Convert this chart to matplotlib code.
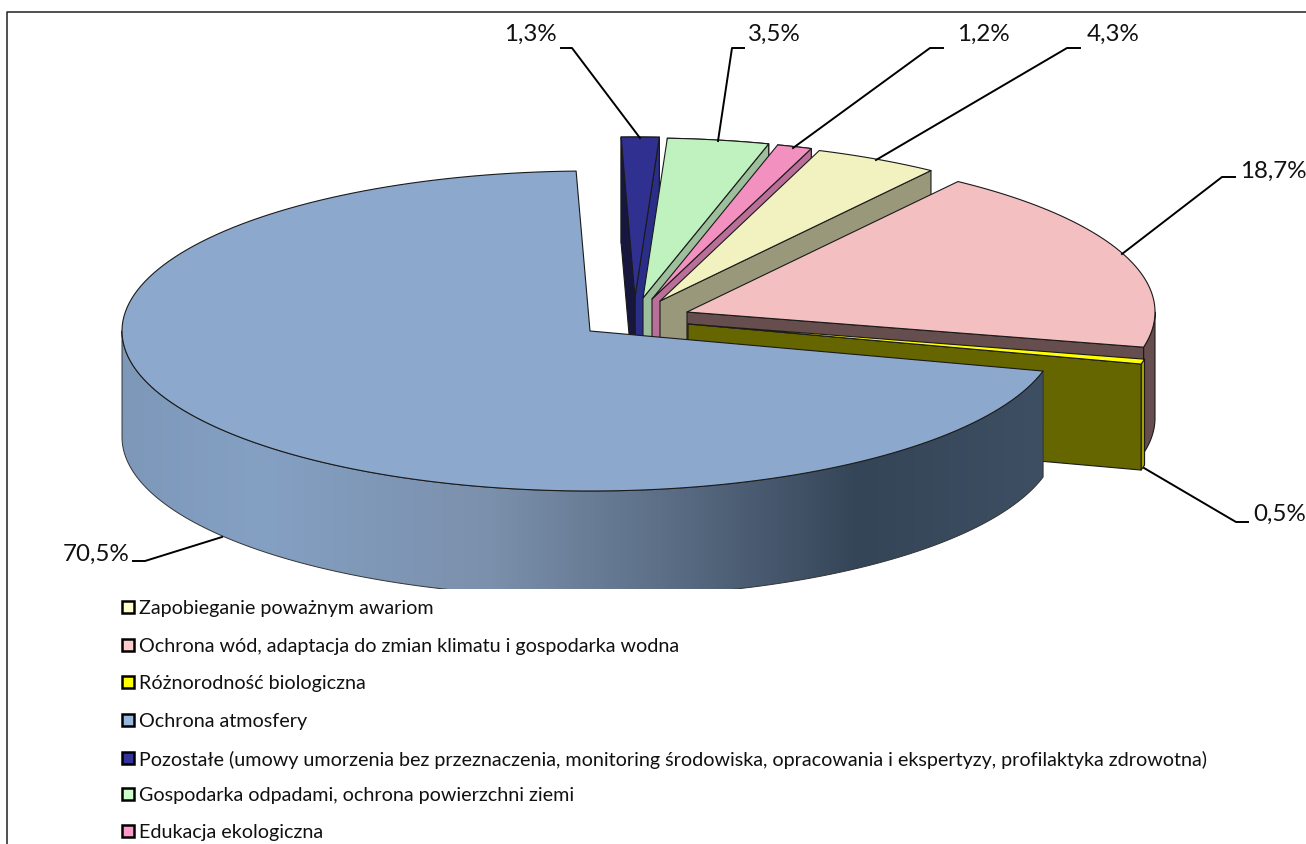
import numpy as np
import matplotlib
matplotlib.use("Agg")
import matplotlib.pyplot as plt
from matplotlib.patches import Polygon, Rectangle
from matplotlib.colors import LinearSegmentedColormap

# ---- data (legend order, which is also clockwise order round the pie)
categories = [
    "Zapobieganie poważnym awariom",
    "Ochrona wód, adaptacja do zmian klimatu i gospodarka wodna",
    "Różnorodność biologiczna",
    "Ochrona atmosfery",
    "Pozostałe (umowy umorzenia bez przeznaczenia, monitoring środowiska, opracowania i ekspertyzy, profilaktyka zdrowotna)",
    "Gospodarka odpadami, ochrona powierzchni ziemi",
    "Edukacja ekologiczna",
]
values = [4.3, 18.7, 0.5, 70.5, 1.3, 3.5, 1.2]
value_labels = ["4,3%", "18,7%", "0,5%", "70,5%", "1,3%", "3,5%", "1,2%"]

# ---- styles
legend_colors = ["#ffffcc", "#ffcccc", "#ffff00", "#99b7dc", "#333399", "#ccffcc", "#ff99cc"]
top_colors = ["#f2f2c0", "#f3bfc0", "#ffff00", "#8ca9cd", "#303090", "#c0f2c0", "#f291c0"]
wall_colors = ["#99987a", "#664e4f", "#666600", "#3f4f63", "#2a2e88", "#9dbf9b", "#b96f97"]
outer_colors = ["#99987a", "#664e4f", "#a3a300", "#3f4f63", "#2a2e88", "#9dbf9b", "#b96f97"]

# ---- layout (pixels)
W, H = 1306, 844
RX, RY, DEPTH = 468, 160, 106
START_ANGLE = 70.1
apex = [(660, 301), (687, 312), (688, 324), (590, 331), (635, 297), (643, 298), (652, 299)]
draw_order = [4, 5, 6, 0, 1, 2, 3]
label_pos = [(1113, 34), (1273, 171), (1280, 514), (96, 554), (530, 34), (774, 34), (983, 34)]
leader_pts = [
    [(876, 160), (1067, 48), (1080, 48)],
    [(1122, 254), (1222, 177), (1235, 177)],
    [(1144, 468), (1236, 522), (1248, 522)],
    [(222, 537), (145, 561), (133, 561)],
    [(640, 138), (572, 48), (561, 48)],
    [(718, 141), (732, 48), (744, 48)],
    [(793, 148), (930, 48), (943, 48)],
]
legend_y = [607, 645, 682, 720, 758, 794, 831]
CLIP_Y = 589

plt.rcParams["font.family"] = ["Lato", "DejaVu Sans"]
fig = plt.figure(figsize=(W / 100, H / 100), dpi=100, facecolor="white")
ax = fig.add_axes([0, 0, 1, 1])
ax.set_xlim(0, W)
ax.set_ylim(H, 0)
ax.axis("off")

EDGE = dict(edgecolor="#1a1a1a", linewidth=0.8, joinstyle="round")


def arc(c, t0, t1, dy=0, n=160):
    t = np.radians(np.linspace(t0, t1, n))
    return np.column_stack([c[0] + RX * np.cos(t), c[1] - RY * np.sin(t) + dy])


def radial_wall(c, t):
    p = arc(c, t, t, n=1)[0]
    return [c, p, (p[0], p[1] + DEPTH), (c[0], c[1] + DEPTH)]


# clockwise angle extents computed from the values
sweeps = np.array(values) * 3.6
ends = START_ANGLE - np.cumsum(sweeps)
starts = ends + sweeps

for i in draw_order:
    c, t0, t1 = apex[i], starts[i], ends[i]
    if i == 3:
        # large slice: front rim from the cut at the right round to the far left, shaded by x
        rim = np.vstack([arc(c, t0, -180), arc(c, -180, t0, dy=DEPTH)])
        outline = Polygon(rim, closed=True, facecolor="none", zorder=3, edgecolor="#333333",
                          linewidth=0.7, joinstyle="round")
        ax.add_patch(outline)
        stops = [(0.0, "#7d98b9"), (0.15, "#84a0c3"), (0.40, "#7b90ac"), (0.58, "#5d7088"),
                 (0.80, "#354558"), (1.0, "#3f4f63")]
        cmap = LinearSegmentedColormap.from_list("wall", stops)
        im = ax.imshow(np.linspace(0, 1, 512)[None, :], cmap=cmap, aspect="auto",
                       extent=(rim[:, 0].min(), rim[:, 0].max(), H, 0), zorder=2)
        im.set_clip_path(Polygon(rim, closed=True, transform=ax.transData))
        ax.set_xlim(0, W)
        ax.set_ylim(H, 0)
    else:
        if t1 < 0:
            hi = min(t0, 0)
            rim = np.vstack([arc(c, hi, t1), arc(c, t1, hi, dy=DEPTH)])
            ax.add_patch(Polygon(rim, closed=True, facecolor=outer_colors[i], zorder=2, **EDGE))
        ax.add_patch(Polygon(radial_wall(c, t1), closed=True, facecolor=wall_colors[i], zorder=2, **EDGE))
    if i == 4:  # the narrow slice also shows its far cut face
        ax.add_patch(Polygon(radial_wall(c, t0), closed=True, facecolor="#16163f", zorder=2, **EDGE))
    top = np.vstack([[c], arc(c, t0, t1)])
    ax.add_patch(Polygon(top, closed=True, facecolor=top_colors[i], zorder=3, **EDGE))

# the plot area crops the bottom of the pie
ax.add_patch(Rectangle((8, CLIP_Y), W, H - CLIP_Y, facecolor="white", edgecolor="none", zorder=4))

# leader lines and value labels
for pts, pos, lab in zip(leader_pts, label_pos, value_labels):
    xs, ys = zip(*pts)
    ax.plot(xs, ys, color="black", lw=1.4, zorder=5, solid_joinstyle="round")
    ax.text(pos[0], pos[1], lab, fontsize=17.4, color="#111111", ha="center", va="center", zorder=6)

# legend
for y, col, name in zip(legend_y, legend_colors, categories):
    ax.add_patch(Rectangle((122, y - 6), 12, 12, facecolor=col, edgecolor="black", linewidth=1.8, zorder=6))
    ax.text(139, y + 1.5, name, fontsize=14.25, color="#111111", ha="left", va="center", zorder=6)

# chart frame: only top and left edges lie within the picture
ax.plot([7, 7, W], [H, 12, 12], color="#222222", lw=1.1, zorder=7, clip_on=False)

fig.savefig("out.png", dpi=100, facecolor="white")
